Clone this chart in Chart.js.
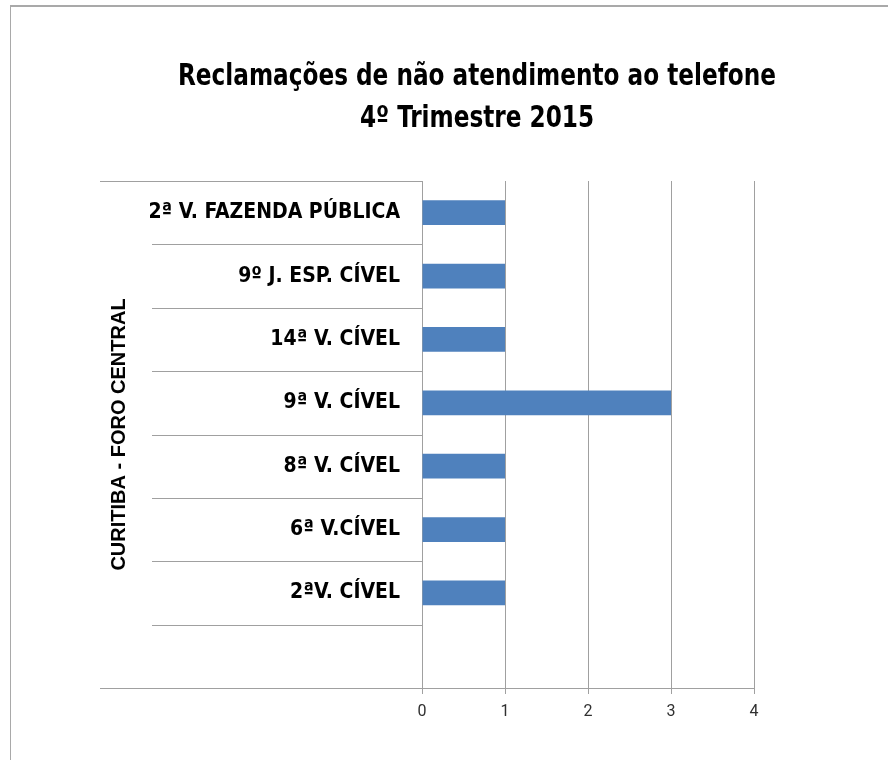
<!DOCTYPE html>
<html>
<head>
<meta charset="utf-8">
<script src="https://cdn.jsdelivr.net/npm/chart.js@4.4.1/dist/chart.umd.min.js"></script>
<style>
  body { margin: 0; background: #fff; overflow: hidden; }
  #wrap { position: relative; width: 888px; height: 760px; }
  #frame { position: absolute; left: 10px; top: 5px; width: 900px; height: 800px;
    border-top: 2px solid #a9a9a9; border-left: 1px solid #a9a9a9; }
  #myChart { position: absolute; left: 0; top: 0; }
</style>
</head>
<body>
<div id="wrap">
  <div id="frame"></div>
  <canvas id="myChart" width="888" height="760"></canvas>
</div>
<script>
var titleLines = ["Reclamações de não atendimento ao telefone", "4º Trimestre 2015"];
var groupLabel = "CURITIBA - FORO CENTRAL";
var categories = ["2ª V. FAZENDA PÚBLICA", "9º J. ESP. CÍVEL", "14ª V. CÍVEL", "9ª V. CÍVEL",
  "8ª V. CÍVEL", "6ª V.CÍVEL", "2ªV. CÍVEL", ""];
var values = [1, 1, 1, 3, 1, 1, 1, null];
var xTicks = [0, 1, 2, 3, 4];

var boldFont = "'Liberation Sans Narrow', 'DejaVu Sans Condensed', 'Liberation Sans', sans-serif";

// title drawn over the canvas, centred like the original (narrowed to the original width)
var titlePlugin = {
  id: "bigTitle",
  afterDraw: function(chart) {
    var c = chart.ctx;
    c.save();
    c.fillStyle = "#000";
    c.font = "bold 30px " + boldFont;
    c.textAlign = "center";
    c.textBaseline = "alphabetic";
    var sx = Math.min(1, 598 / c.measureText(titleLines[0]).width);
    c.translate(477, 0);
    c.scale(sx, 1);
    c.fillText(titleLines[0], 0, 85);
    c.fillText(titleLines[1], 0, 127);
    c.restore();
  }
};

// separator lines between categories in the label area
var catLines = {
  id: "catLines",
  afterDraw: function(chart) {
    var y = chart.scales.y;
    var half = (y.getPixelForValue(1) - y.getPixelForValue(0)) / 2;
    var c = chart.ctx;
    c.save();
    c.strokeStyle = "#a0a0a0";
    c.lineWidth = 1;
    for (var i = 0; i <= categories.length; i++) {
      var py = Math.round(y.getPixelForValue(i) - half) + 0.5;
      var x0 = (i === 0 || i === categories.length) ? 100 : 152;
      c.beginPath();
      c.moveTo(x0, py);
      c.lineTo(y.right, py);
      c.stroke();
    }
    c.restore();
  }
};

var ctx = document.getElementById("myChart");
var myChart = new Chart(ctx, {
  type: "bar",
  data: {
    labels: categories,
    datasets: [{
      data: values,
      backgroundColor: "#4f81bd",
      barPercentage: 0.39,
      categoryPercentage: 1
    }]
  },
  plugins: [titlePlugin, catLines],
  options: {
    indexAxis: "y",
    responsive: false,
    animation: false,
    events: [],
    layout: { padding: { top: 181, right: 134, left: 0, bottom: 0 } },
    plugins: {
      legend: { display: false },
      title: { display: false },
      tooltip: { enabled: false }
    },
    scales: {
      x: {
        min: 0,
        max: 4,
        afterBuildTicks: function(scale) {
          scale.ticks = xTicks.map(function(v) { return { value: v }; });
        },
        afterFit: function(scale) { scale.height = 72; },
        grid: { color: "#a0a0a0", lineWidth: 1, tickLength: 6 },
        border: { color: "#a0a0a0" },
        ticks: { color: "#303030", padding: 8, font: { family: "Roboto", size: 16 } }
      },
      y: {
        afterFit: function(scale) { scale.width = 422; },
        grid: { drawOnChartArea: false, drawTicks: false },
        border: { color: "#a0a0a0" },
        ticks: { color: "#000", padding: 22, font: { family: boldFont, size: 21, weight: "bold" } },
        title: {
          display: true,
          text: groupLabel,
          color: "#000",
          padding: { top: 107, bottom: 0 },
          font: { family: "'Liberation Sans', Arial, sans-serif", size: 20, weight: "bold" }
        }
      }
    }
  }
});
</script>
</body>
</html>
